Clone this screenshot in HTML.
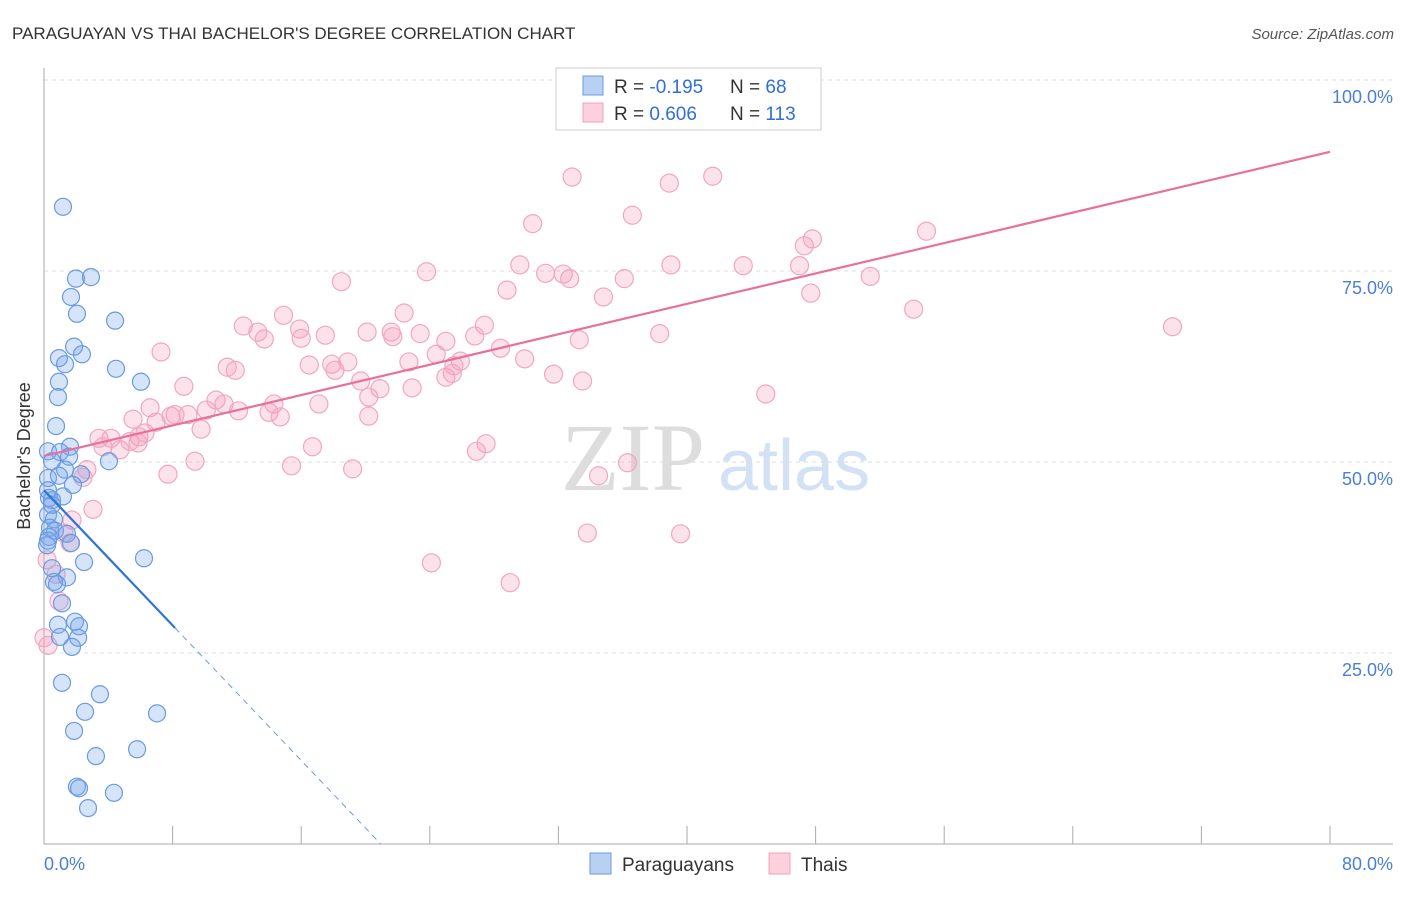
<!DOCTYPE html>
<html><head><meta charset="utf-8"><style>
body{margin:0;background:#fff;font-family:"Liberation Sans",sans-serif;}
</style></head><body>
<svg width="1406" height="892" viewBox="0 0 1406 892" xmlns="http://www.w3.org/2000/svg">
<text x="12" y="39" font-size="17" fill="#333">PARAGUAYAN VS THAI BACHELOR'S DEGREE CORRELATION CHART</text>
<text x="1394" y="39" font-size="15" fill="#555" text-anchor="end" font-style="italic">Source: ZipAtlas.com</text>
<g id="grid"></g>
<text x="705" y="490" font-size="96" fill="#ddd" text-anchor="end" font-family="Liberation Serif">ZIP</text>
<text x="718" y="490" font-size="72" fill="#d3e1f5">atlas</text>
<g id="axes"></g>
<g id="pts"></g>
<g id="lines"></g>
<text x="36" y="456" font-size="18" fill="#333" text-anchor="middle" transform="rotate(-90 36 456)" dy="-6">Bachelor's Degree</text>
<text x="44" y="870" font-size="18" fill="#4a7fd6">0.0%</text>
<text x="1393" y="870" font-size="18" fill="#4a7fd6" text-anchor="end">80.0%</text>
<g>
<rect x="556" y="68" width="265" height="62" fill="#fff" stroke="#ccc"/>
<rect x="583" y="76" width="20" height="19" fill="#b8d0f2" stroke="#6a9be0"/>
<rect x="583" y="103" width="20" height="19" fill="#fcd0dd" stroke="#f0a0bc"/>
<text x="614" y="93" font-size="19" fill="#333">R = <tspan fill="#2f6fd6">-0.195</tspan><tspan x="730">N = </tspan><tspan fill="#2f6fd6">68</tspan></text>
<text x="614" y="120" font-size="19" fill="#333">R = <tspan fill="#2f6fd6"> 0.606</tspan><tspan x="730">N = </tspan><tspan fill="#2f6fd6">113</tspan></text>
</g>
<g>
<rect x="590" y="853" width="21" height="21" fill="#b8d0f2" stroke="#6a9be0"/>
<text x="622" y="871" font-size="19" fill="#333">Paraguayans</text>
<rect x="769" y="853" width="21" height="21" fill="#fcd0dd" stroke="#f0a0bc"/>
<text x="801" y="871" font-size="19" fill="#333">Thais</text>
</g>
</svg>
<script>
const yTicks=[25,50,75,100];
const yTickLabels=["25.0%","50.0%","75.0%","100.0%"];
const xTicks=[0,10,20,30,40,50,60,70,80,90,100].map(v=>v*0.8);
const blueX=[1.18,1.99,2.92,1.68,2.05,4.42,1.87,2.36,0.93,1.31,4.48,6.03,0.93,0.87,0.75,1.62,0.25,1.0,1.56,0.5,4.04,1.31,2.3,0.25,0.93,1.8,1.18,0.31,0.5,0.25,0.62,0.37,0.68,0.31,1.43,1.68,0.25,6.22,2.49,0.5,1.43,0.62,1.12,0.87,1.93,2.18,2.12,1.0,1.74,1.12,3.48,2.55,7.03,1.87,5.79,3.23,2.05,2.18,4.35,2.74,0.25,0.5,0.19,0.81];
const blueY=[83.4,74.0,74.2,71.6,69.4,68.5,65.1,64.1,63.6,62.8,62.2,60.5,60.5,58.5,54.7,52.0,51.4,51.3,50.7,50.1,50.1,49.0,48.4,47.9,48.2,47.0,45.5,45.3,45.0,43.1,42.5,41.4,41.0,40.2,40.6,39.4,39.7,37.4,36.9,36.1,34.9,34.3,31.5,28.7,29.1,28.5,27.0,27.1,25.8,21.1,19.6,17.3,17.1,14.8,12.4,11.5,7.5,7.3,6.7,4.7,46.3,44.4,39.1,34.0];
const pinkX=[32.85,41.6,38.9,36.6,30.4,54.9,47.8,47.3,29.6,23.8,31.2,32.3,32.7,36.1,39.0,43.5,47.0,18.5,28.8,34.8,51.4,47.7,54.1,70.2,14.9,22.4,12.4,13.3,13.7,15.9,16.0,17.5,20.1,21.6,21.7,23.4,27.4,25.0,26.8,33.3,38.3,7.28,17.9,16.5,18.1,18.9,24.4,28.4,29.9,25.5,25.9,11.4,11.9,22.7,19.7,20.9,22.9,25.0,25.4,31.7,33.5,8.7,20.2,20.2,17.1,14.3,10.7,11.2,10.1,8.96,8.15,7.9,6.6,5.54,12.1,14.0,14.7,9.77,6.97,6.28,5.91,3.42,4.17,3.67,4.73,5.35,5.85,16.7,27.5,26.9,44.9,15.4,19.2,9.39,7.71,2.67,2.43,34.5,36.3,33.8,39.6,24.1,29.0,3.05,1.74,1.24,1.62,0.19,0.75,0.93,0,0.25];
const pinkY=[87.3,87.4,86.5,82.3,81.2,80.2,79.2,78.3,75.8,74.9,74.7,74.6,74.0,74.0,75.8,75.7,75.7,73.6,72.5,71.6,74.3,72.1,70.0,67.7,69.2,69.5,67.8,67.0,66.1,67.4,66.2,66.6,67.0,67.0,66.4,66.8,67.9,65.8,66.5,66.0,66.8,64.4,62.8,62.7,62.0,63.1,64.1,64.9,63.5,62.6,63.2,62.4,62.0,63.1,60.6,59.6,59.7,61.1,61.6,61.5,60.6,59.9,58.5,56.0,57.6,57.6,58.1,57.6,56.8,56.2,56.2,56.0,57.1,55.6,56.7,56.5,55.9,54.3,55.2,53.8,53.3,53.1,53.1,52.0,51.6,52.7,52.5,52.0,52.4,51.4,58.9,49.5,49.1,50.1,48.4,49.0,48.0,48.2,49.9,40.7,40.6,36.8,34.2,43.8,42.4,40.7,39.4,37.2,35.3,31.8,27.0,26.0];
const blueTrend=[46.3,-2.21];
const pinkTrend=[50.8,0.4975];
const X=v=>44+v*16.075, Y=v=>844-v*7.64;
const NS="http://www.w3.org/2000/svg";
function mk(t,a,p){const e=document.createElementNS(NS,t);for(const k in a)e.setAttribute(k,a[k]);p.appendChild(e);return e;}
const grid=document.getElementById('grid');
yTicks.forEach((v,i)=>{
 const l=mk('line',{x1:44,x2:1393,y1:Y(v),y2:Y(v),stroke:'#ddd','stroke-dasharray':'4 4'},grid);
 
 
 const t=mk('text',{x:1393,y:Y(v)+23,'font-size':18,fill:'#4a7fd6','text-anchor':'end'},grid);
 t.textContent=yTickLabels[i];
 
 
});
const ax=document.getElementById('axes');
mk('line',{x1:44,x2:44,y1:68,y2:844,stroke:'#aaa'},ax);
mk('line',{x1:44,x2:1393,y1:844,y2:844,stroke:'#aaa'},ax);
xTicks.forEach(v=>{const l=mk('line',{x1:X(v),x2:X(v),y1:826,y2:844,stroke:'#aaa'},ax);
 
 });
const pts=document.getElementById('pts');
pinkX.forEach((x,i)=>{const c=mk('circle',{cx:X(x),cy:Y(pinkY[i]),r:9,fill:'rgba(244,160,190,0.3)',stroke:'#f2a6c0','stroke-width':1.2},pts);
 
 });
blueX.forEach((x,i)=>{const c=mk('circle',{cx:X(x),cy:Y(blueY[i]),r:8.5,fill:'rgba(120,165,235,0.3)',stroke:'#6a9be0','stroke-width':1.2},pts);
 
 });
const ln=document.getElementById('lines');
const pl=mk('line',{x1:X(0),y1:Y(pinkTrend[0]),x2:X(80),y2:Y(pinkTrend[0]+pinkTrend[1]*80),stroke:'#e8709a','stroke-width':2.2},ln);


const bx=8.15, bz=-blueTrend[0]/blueTrend[1];
const bl=mk('line',{x1:X(0),y1:Y(blueTrend[0]),x2:X(bx),y2:Y(blueTrend[0]+blueTrend[1]*bx),stroke:'#2f72d9','stroke-width':2.2},ln);


const bd=mk('line',{x1:X(bx),y1:Y(blueTrend[0]+blueTrend[1]*bx),x2:X(bz),y2:Y(0),stroke:'#6a9be0','stroke-width':1,'stroke-dasharray':'6 5'},ln);


</script>
</body></html>
